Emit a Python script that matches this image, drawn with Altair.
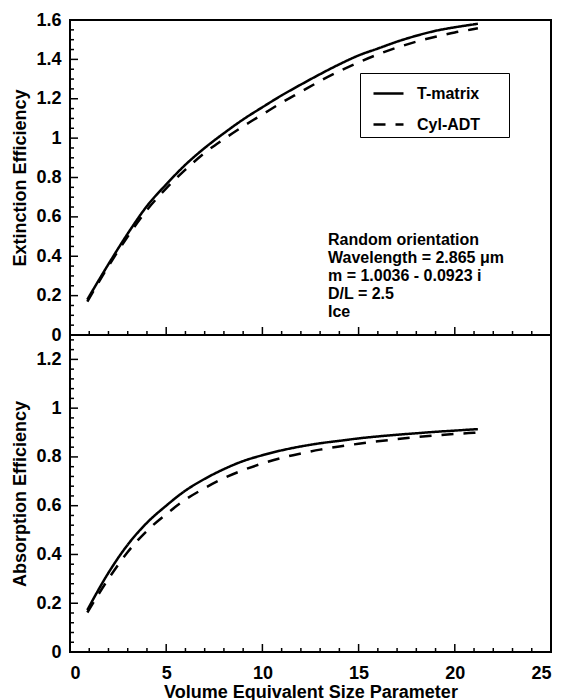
import altair as alt
import pandas as pd

# ---- data ----
x_vals = [0.9, 2, 3, 4, 5, 6, 7, 8, 9, 10, 11, 12, 13, 14, 15, 16, 17, 18, 19, 20, 21, 21.2]
ext_tmatrix = [0.18, 0.36, 0.515, 0.655, 0.765, 0.865, 0.95, 1.025, 1.095, 1.157, 1.217, 1.272,
               1.325, 1.375, 1.42, 1.455, 1.49, 1.52, 1.545, 1.563, 1.578, 1.581]
ext_cyladt = [0.17, 0.35, 0.50, 0.635, 0.745, 0.84, 0.925, 0.995, 1.06, 1.12, 1.18, 1.235,
              1.29, 1.34, 1.385, 1.425, 1.46, 1.49, 1.515, 1.537, 1.554, 1.558]
abs_tmatrix = [0.172, 0.325, 0.44, 0.53, 0.6, 0.662, 0.71, 0.75, 0.783, 0.807, 0.827, 0.843,
               0.856, 0.866, 0.876, 0.884, 0.891, 0.897, 0.903, 0.908, 0.913, 0.914]
abs_cyladt = [0.162, 0.30, 0.41, 0.497, 0.565, 0.625, 0.672, 0.713, 0.746, 0.773, 0.796, 0.814,
              0.83, 0.843, 0.854, 0.864, 0.873, 0.881, 0.888, 0.894, 0.899, 0.90]
series = ["T-matrix", "Cyl-ADT"]

x_major = [0, 5, 10, 15, 20, 25]
x_minor = [v for v in range(1, 25) if v % 5]
top_major = [round(0.2 * i, 2) for i in range(9)]
top_minor = [round(0.05 * i, 2) for i in range(33) if i % 4]
bot_major = [round(0.2 * i, 2) for i in range(7)]
bot_minor = [round(0.04 * i, 2) for i in range(33) if i % 5]
annotation = ["Random orientation", "Wavelength = 2.865 \u03bcm", "m = 1.0036 - 0.0923 i",
              "D/L = 2.5", "Ice"]

FONT = "Liberation Sans"
W = 481
H1 = 315
H2 = 317


def long_df(a, b):
    return pd.DataFrame({
        "x": x_vals * 2,
        "y": a + b,
        "series": [series[0]] * len(x_vals) + [series[1]] * len(x_vals),
    })


xscale = alt.Scale(domain=[0, 25], nice=False, zero=False)


def panel(df, ymax, ymaj, ymin, ytitle, H, bottom, legend):
    yscale = alt.Scale(domain=[0, ymax], nice=False, zero=False)
    yaxis = alt.Axis(values=ymaj, ticks=False, tickSize=0, domain=False, grid=False,
                     labelPadding=9, titlePadding=6, format="~g")
    if bottom:
        xaxis = alt.Axis(values=x_major, ticks=False, tickSize=0, domain=False,
                         grid=False, labelPadding=12, titlePadding=1, format="d")
        X = alt.X("x:Q", scale=xscale, axis=xaxis, title="Volume Equivalent Size Parameter")
    else:
        X = alt.X("x:Q", scale=xscale, axis=None)
    Y = alt.Y("y:Q", scale=yscale, axis=yaxis, title=ytitle)
    lines = alt.Chart(df).mark_line(color="black", strokeWidth=2.5, interpolate="monotone").encode(
        x=X, y=Y,
        strokeDash=alt.StrokeDash("series:N",
                                  scale=alt.Scale(domain=series, range=[[1, 0], [12, 10]]),
                                  legend=legend),
    )
    layers = [lines]
    for vals, ln in ((x_major, 8), (x_minor, 4)):
        layers.append(
            alt.Chart(pd.DataFrame({"x": vals})).mark_rule(color="black", strokeWidth=1.5).encode(
                x=X, y=alt.value(H), y2=alt.value(H - ln)))
    for vals, ln in ((ymaj, 8), (ymin, 4)):
        layers.append(
            alt.Chart(pd.DataFrame({"y": vals})).mark_rule(color="black", strokeWidth=1.5).encode(
                y=Y, x=alt.value(0), x2=alt.value(ln)))
    return layers


PAD = "\u2800"
top_legend = alt.Legend(orient="none", legendX=290, legendY=53, title="",
                        symbolType="stroke", symbolSize=900, symbolStrokeWidth=2.5,
                        symbolStrokeColor="black", symbolOffset=8,
                        labelFont=FONT, labelFontSize=16, labelFontWeight="bold",
                        labelColor="black", labelOffset=12, rowPadding=6,
                        padding=4, strokeColor="black", fillColor="white",
                        labelExpr="datum.label + '" + PAD * 2 + "'")

top_layers = panel(long_df(ext_tmatrix, ext_cyladt), 1.6, top_major, top_minor,
                   "Extinction Efficiency", H1, False, top_legend)

ann = alt.Chart(pd.DataFrame({"t": ["\n".join(annotation)]})).mark_text(
    align="left", baseline="alphabetic", lineBreak="\n", lineHeight=18,
    font=FONT, fontSize=16, fontWeight="bold", color="black",
).encode(text="t:N", x=alt.value(258), y=alt.value(225))

top = alt.layer(*top_layers, ann).properties(width=W, height=H1)

bot_layers = panel(long_df(abs_tmatrix, abs_cyladt), 1.3, bot_major, bot_minor,
                   "Absorption Efficiency", H2, True, None)
bottom = alt.layer(*bot_layers).properties(width=W, height=H2)

chart = alt.vconcat(top, bottom, spacing=0, bounds="flush").resolve_scale(
    strokeDash="independent").resolve_legend(strokeDash="independent").properties(
    padding={"left": 2, "top": 2, "right": 5, "bottom": 0},
).configure_view(stroke="black", strokeWidth=2).configure_axis(
    labelFont=FONT, labelFontSize=18, labelFontWeight="bold", labelColor="black",
    titleFont=FONT, titleFontSize=18, titleFontWeight="bold", titleColor="black",
)

chart.save("out.html", embed_options={"renderer": "svg", "actions": False})
